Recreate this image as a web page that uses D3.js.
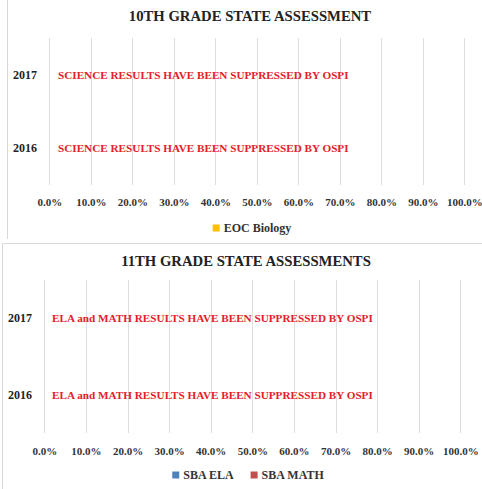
<!DOCTYPE html>
<html>
<head>
<meta charset="utf-8">
<script src="https://cdn.jsdelivr.net/npm/d3@7"></script>
<style>
  body { margin: 0; background: #fff; }
  svg { display: block; }
  text { font-family: "Liberation Serif", "DejaVu Serif", serif; font-weight: bold; }
</style>
</head>
<body>
<div id="chart"></div>
<script>
// data
const years = ["2017", "2016"];
const percentTicks = [0, 0.1, 0.2, 0.3, 0.4, 0.5, 0.6, 0.7, 0.8, 0.9, 1.0];

// 10th grade - values suppressed, so nothing to draw
const grade10Title = "10TH GRADE STATE ASSESSMENT";
const grade10Series = ["EOC Biology"];
const grade10Colors = ["#FFC000"];
const eocBiology = [null, null];
const grade10Note = "SCIENCE RESULTS HAVE BEEN SUPPRESSED BY OSPI";

// 11th grade - values suppressed too
const grade11Title = "11TH GRADE STATE ASSESSMENTS";
const grade11Series = ["SBA ELA", "SBA MATH"];
const grade11Colors = ["#4F81BD", "#C0504D"];
const sbaEla = [null, null];
const sbaMath = [null, null];
const grade11Note = "ELA and MATH RESULTS HAVE BEEN SUPPRESSED BY OSPI";

const W = 482, H = 489;

const svg = d3.select("#chart")
  .append("svg")
    .attr("width", W)
    .attr("height", H);

// panel borders (two pasted chart boxes)
svg.append("line").attr("x1", 7.5).attr("x2", 7.5).attr("y1", 0).attr("y2", 239)
  .attr("stroke", "#d9d9d9");
svg.append("line").attr("x1", 2).attr("x2", W).attr("y1", 243.5).attr("y2", 243.5)
  .attr("stroke", "#d9d9d9");
svg.append("line").attr("x1", 2.5).attr("x2", 2.5).attr("y1", 243).attr("y2", H)
  .attr("stroke", "#d9d9d9");

function drawChart(cfg) {
  const g = svg.append("g");

  const x = d3.scaleLinear().domain([0, 1]).range([cfg.left, cfg.right]);
  const y = d3.scaleBand().domain(years).range([cfg.top, cfg.bottom]).paddingInner(0);

  // title
  g.append("text")
    .attr("x", cfg.titleX)
    .attr("y", cfg.titleY)
    .attr("text-anchor", "middle")
    .attr("dy", "0.35em")
    .attr("font-size", 14.7)
    .attr("fill", "#222")
    .text(cfg.title);

  // vertical gridlines
  g.append("g")
    .selectAll("line")
    .data(percentTicks)
    .join("line")
      .attr("x1", d => Math.round(x(d)) + 0.5)
      .attr("x2", d => Math.round(x(d)) + 0.5)
      .attr("y1", cfg.top)
      .attr("y2", cfg.bottom)
      .attr("stroke", "#dedede");

  // x axis labels
  const xAxis = g.append("g")
    .attr("transform", `translate(0,${cfg.tickY})`)
    .call(d3.axisBottom(x).tickValues(percentTicks).tickFormat(d3.format(".1%")).tickSize(0).tickPadding(0));
  xAxis.select(".domain").remove();
  xAxis.selectAll("text")
    .attr("dy", "0.35em")
    .attr("font-size", 11)
    .attr("font-family", "Liberation Serif, serif")
    .attr("fill", "#333");

  // y axis labels
  const yAxis = g.append("g")
    .attr("transform", `translate(${cfg.yLabelX},0)`)
    .call(d3.axisLeft(y).tickSize(0).tickPadding(0));
  yAxis.select(".domain").remove();
  yAxis.selectAll("text")
    .attr("font-size", 12)
    .attr("font-family", "Liberation Serif, serif")
    .attr("fill", "#222");

  // bars (values suppressed -> nulls, nothing visible)
  const sub = d3.scaleBand().domain(cfg.series).range([0, y.bandwidth()]).padding(0.3);
  cfg.values.forEach((vals, si) => {
    g.append("g")
      .selectAll("rect")
      .data(vals.map((v, i) => ({ year: years[i], v })).filter(d => d.v != null))
      .join("rect")
        .attr("x", x(0))
        .attr("y", d => y(d.year) + sub(cfg.series[si]))
        .attr("height", sub.bandwidth())
        .attr("width", d => x(d.v) - x(0))
        .attr("fill", cfg.colors[si]);
  });

  // suppression notes
  g.append("g")
    .selectAll("text")
    .data(years)
    .join("text")
      .attr("x", cfg.noteX)
      .attr("y", d => y(d) + y.bandwidth() / 2)
      .attr("dy", "0.35em")
      .attr("font-size", 11.2)
      .attr("fill", "#E5202A")
      .text(cfg.note);

  // legend
  const leg = g.append("g");
  let lx = 0;
  cfg.series.forEach((s, i) => {
    const it = leg.append("g").attr("transform", `translate(${lx},0)`);
    it.append("rect").attr("x", 0).attr("y", -3.5).attr("width", 7).attr("height", 7).attr("fill", cfg.colors[i]);
    const t = it.append("text").attr("x", 11).attr("dy", "0.35em").attr("font-size", 12).attr("fill", "#333").text(s);
    lx += 11 + t.node().getComputedTextLength() + 17;
  });
  const total = lx - 17;
  leg.attr("transform", `translate(${cfg.legendX - total / 2},${cfg.legendY})`);
}

drawChart({
  title: grade10Title, titleX: 250, titleY: 16,
  left: 49.3, right: 464.3, top: 38, bottom: 185,
  tickY: 202, yLabelX: 37, noteX: 58,
  series: grade10Series, colors: grade10Colors, values: [eocBiology],
  note: grade10Note, legendX: 252, legendY: 228
});

drawChart({
  title: grade11Title, titleX: 246, titleY: 261,
  left: 44.3, right: 460.3, top: 280, bottom: 433,
  tickY: 451, yLabelX: 32, noteX: 52,
  series: grade11Series, colors: grade11Colors, values: [sbaEla, sbaMath],
  note: grade11Note, legendX: 248, legendY: 475
});
</script>
</body>
</html>
